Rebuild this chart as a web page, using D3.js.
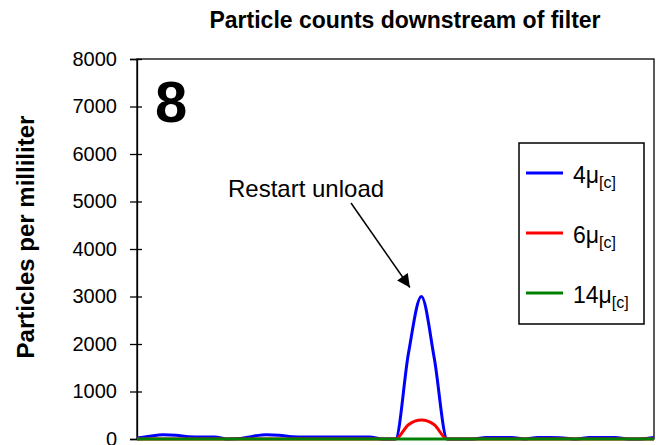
<!DOCTYPE html>
<html><head><meta charset="utf-8">
<script src="https://cdn.jsdelivr.net/npm/d3@7"></script>
<style>body{margin:0;background:#fff}svg{display:block;font-family:"Liberation Sans",Arial,sans-serif}</style>
</head><body>
<svg id="c" width="656" height="445"></svg>
<script>
const title = "Particle counts downstream of filter";
const yLabel = "Particles per milliliter";
const panelLabel = "8";
const annotation = "Restart unload";
const yTicks = [0,1000,2000,3000,4000,5000,6000,7000,8000];
const samples = d3.range(0,41);
const s4  = [20,60,90,80,50,40,40,0,10,60,90,80,50,40,40,40,40,40,40,0,0,1800,3000,1700,0,0,0,30,30,30,0,30,30,20,0,30,30,30,0,0,30];
const s6  = [0,0,0,0,0,0,0,0,0,0,0,0,0,0,0,0,0,0,0,0,0,300,400,300,0,0,0,0,0,0,0,0,0,0,0,0,0,0,0,0,0];
const s14 = [0,0,0,0,0,0,0,0,0,0,0,0,0,0,0,0,0,0,0,0,0,0,0,0,0,0,0,0,0,0,0,0,0,0,0,0,0,0,0,0,0];
const seriesNames = ["4μ","6μ","14μ"];
const seriesSub = "[c]";
const seriesColors = ["#0000ff","#ff0000","#008000"];
const seriesData = [s4,s6,s14];

const svg = d3.select("#c");
const L=137, R=654, T=59, B=439;
const x = d3.scaleLinear().domain([0,40]).range([L,R]);
const y = d3.scaleLinear().domain([0,8000]).range([B,T]);

svg.append("defs").append("clipPath").attr("id","clip")
  .append("rect").attr("x",L).attr("y",T).attr("width",R-L).attr("height",B-T+3);

// plot frame
svg.append("rect").attr("x",L).attr("y",T).attr("width",R-L).attr("height",B-T)
  .attr("fill","none").attr("stroke","#000").attr("stroke-width",1.3);

// y axis
const ax = svg.append("g").attr("transform",`translate(${L},0)`)
  .call(d3.axisLeft(y).tickValues(yTicks).tickFormat(d3.format("d")).tickSize(7).tickPadding(13));
ax.select(".domain").attr("stroke","#000").attr("stroke-width",1.3);
ax.selectAll(".tick line").attr("stroke","#000").attr("stroke-width",1.3).attr("x2",-7).attr("x1",5);
ax.selectAll(".tick text").attr("font-size",20).attr("fill","#000").attr("font-family","Liberation Sans, Arial, sans-serif");

// lines
const line = d3.line().x((d,i)=>x(samples[i])).y(d=>y(d)).curve(d3.curveMonotoneX);
const g = svg.append("g").attr("clip-path","url(#clip)");
seriesData.forEach((s,k)=>{
  g.append("path").datum(s).attr("d",line).attr("fill","none")
   .attr("stroke",seriesColors[k]).attr("stroke-width",3).attr("stroke-linejoin","round");
});

// title
svg.append("text").attr("x",405).attr("y",28).attr("text-anchor","middle")
  .attr("font-size",23).attr("font-weight","bold").text(title);
// y label
svg.append("text").attr("transform","translate(34,237) rotate(-90)").attr("text-anchor","middle")
  .attr("font-size",24).attr("font-weight","bold").text(yLabel);
// panel label
svg.append("text").attr("x",155).attr("y",122).attr("font-size",58).attr("font-weight","bold").text(panelLabel);

// annotation
svg.append("text").attr("x",228).attr("y",197).attr("font-size",24).text(annotation);
svg.append("defs").append("marker").attr("id","ah").attr("viewBox","0 0 10 10")
  .attr("refX",10).attr("refY",5).attr("markerWidth",17).attr("markerHeight",13)
  .attr("markerUnits","userSpaceOnUse").attr("orient","auto")
  .append("path").attr("d","M0,0 L10,5 L0,10 Z").attr("fill","#000");
svg.append("line").attr("x1",351).attr("y1",203).attr("x2",x(21.5)-5).attr("y2",y(3000)-9)
  .attr("stroke","#000").attr("stroke-width",1.5).attr("marker-end","url(#ah)");

// legend
const lg = svg.append("g");
lg.append("rect").attr("x",519).attr("y",143).attr("width",125).attr("height",181)
  .attr("fill","#fff").attr("stroke","#000").attr("stroke-width",1.5);
const ly = [173,233,293];
seriesNames.forEach((n,k)=>{
  lg.append("line").attr("x1",526).attr("x2",563).attr("y1",ly[k]).attr("y2",ly[k])
    .attr("stroke",seriesColors[k]).attr("stroke-width",3);
  const t = lg.append("text").attr("x",573).attr("y",ly[k]+10).attr("font-size",23);
  t.append("tspan").text(n);
  t.append("tspan").attr("font-size",16).attr("dy",5).text(seriesSub);
});
</script>
</body></html>
